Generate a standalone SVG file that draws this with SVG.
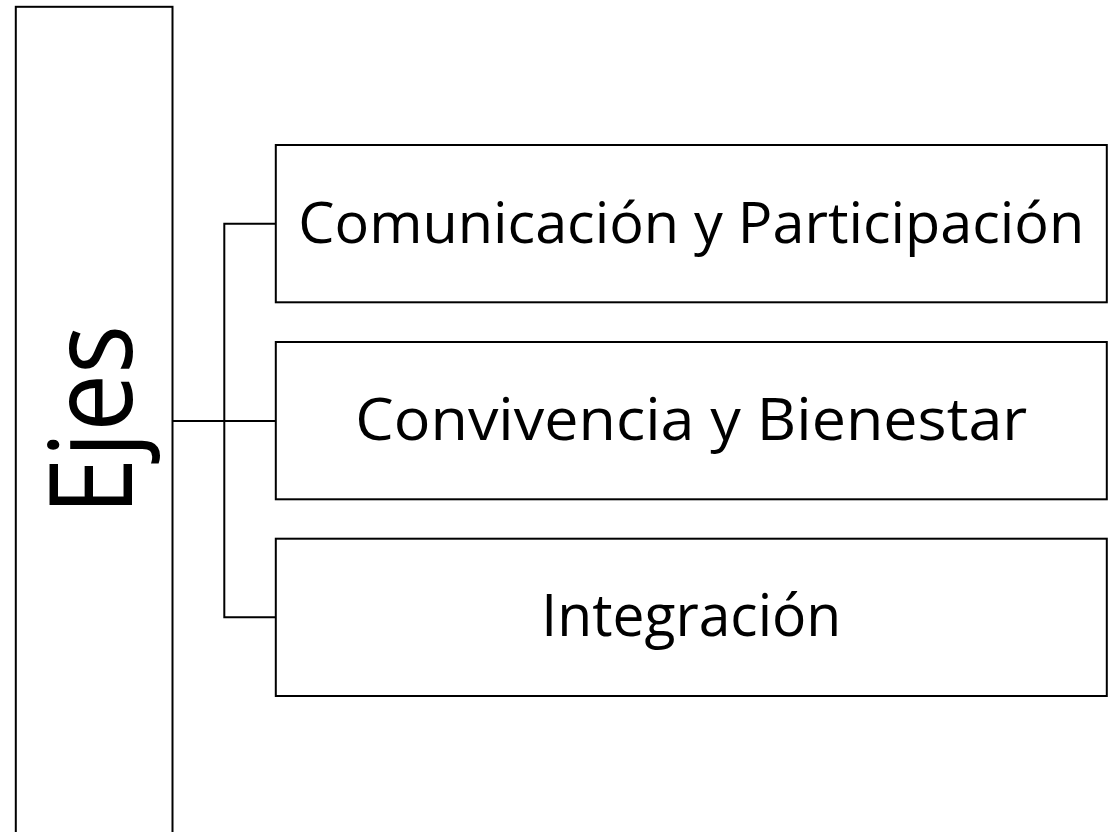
<svg xmlns="http://www.w3.org/2000/svg" width="1112" height="832" viewBox="0 0 1112 832">
<style>
.box{fill:#fff;stroke:#000;stroke-width:2}
.lbl{font-family:"Open Sans","Noto Sans",sans-serif;fill:#000;text-anchor:middle}
.con{fill:none;stroke:#000;stroke-width:2}
</style>
<rect width="1112" height="832" fill="#fff"/>
<g id="connectors">
<path class="con" d="M172.5 421 H275.8"/>
<path class="con" d="M275.8 223.7 H224.3 V617.2 H275.8"/>
</g>
<g id="ejes">
<rect class="box" x="15.8" y="6.8" width="156.7" height="840"/>
<text class="lbl" transform="translate(131.5 420) rotate(-90)" x="0" y="0" font-size="115" textLength="190" lengthAdjust="spacingAndGlyphs">Ejes</text>
</g>
<g id="comunicacion">
<rect class="box" x="275.8" y="145" width="831" height="157.3"/>
<text class="lbl" x="691.3" y="243.3" font-size="57" textLength="786" lengthAdjust="spacingAndGlyphs">Comunicación y Participación</text>
</g>
<g id="convivencia">
<rect class="box" x="275.8" y="342" width="831" height="157.3"/>
<text class="lbl" x="691.3" y="439.8" font-size="59" textLength="672" lengthAdjust="spacingAndGlyphs">Convivencia y Bienestar</text>
</g>
<g id="integracion">
<rect class="box" x="275.8" y="538.7" width="831" height="157.3"/>
<text class="lbl" x="691.3" y="636.3" font-size="59" textLength="300" lengthAdjust="spacingAndGlyphs">Integración</text>
</g>
</svg>
